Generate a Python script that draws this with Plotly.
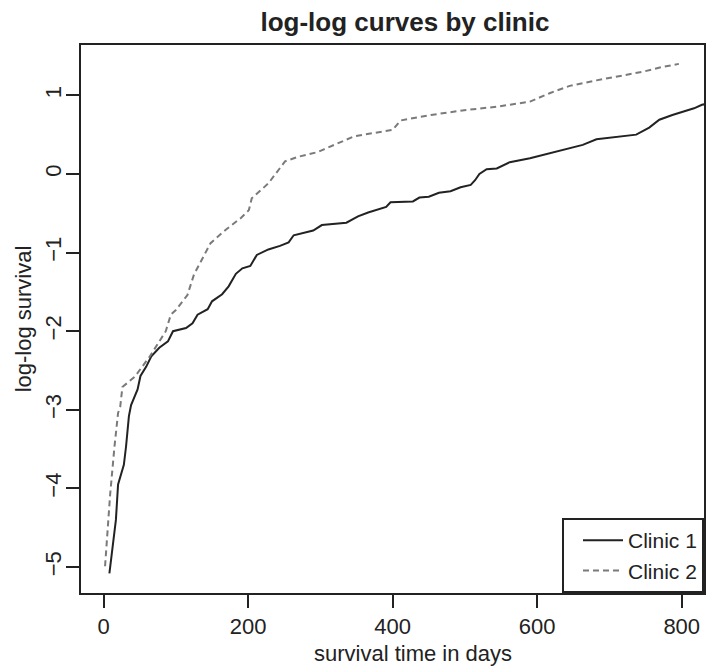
import plotly.graph_objects as go

# Clinic 1 (solid) log-log survival curve
clinic1_t = [8, 17, 20, 28, 31, 35, 38, 43, 47, 51, 59, 66, 77, 89, 96, 114, 123, 130, 144, 150,
             164, 173, 183, 192, 203, 212, 228, 244, 256, 263, 279, 290, 302, 336, 352, 366, 391,
             397, 428, 437, 450, 464, 480, 494, 508, 514, 520, 530, 544, 562, 590, 617, 645, 663,
             682, 709, 737, 755, 769, 787, 817, 828, 840]
clinic1_y = [-5.08, -4.40, -3.95, -3.70, -3.47, -3.08, -2.94, -2.82, -2.74, -2.57, -2.45, -2.32,
             -2.21, -2.13, -2.00, -1.96, -1.90, -1.79, -1.72, -1.62, -1.53, -1.43, -1.27, -1.20,
             -1.17, -1.03, -0.96, -0.915, -0.87, -0.78, -0.74, -0.72, -0.65, -0.62, -0.54, -0.49,
             -0.42, -0.36, -0.35, -0.30, -0.29, -0.24, -0.22, -0.17, -0.14, -0.08, 0.00, 0.06,
             0.07, 0.15, 0.20, 0.26, 0.33, 0.37, 0.44, 0.47, 0.50, 0.59, 0.69, 0.75, 0.835, 0.88,
             0.90]

# Clinic 2 (dashed) log-log survival curve
clinic2_t = [2, 9, 15, 20, 23, 26, 43, 64, 86, 93, 100, 116, 125, 137, 148, 169, 190, 201, 205,
             228, 251, 270, 297, 304, 329, 347, 400, 411, 453, 499, 544, 590, 618, 645, 682, 718,
             746, 773, 796]
clinic2_y = [-4.99, -4.08, -3.47, -3.04, -2.96, -2.71, -2.58, -2.32, -2.00, -1.79, -1.73, -1.54,
             -1.28, -1.07, -0.88, -0.71, -0.56, -0.46, -0.31, -0.12, 0.16, 0.22, 0.28, 0.31, 0.41,
             0.48, 0.56, 0.68, 0.75, 0.81, 0.855, 0.92, 1.03, 1.12, 1.19, 1.25, 1.30, 1.36, 1.40]

x_ticks = [0, 200, 400, 600, 800]
y_ticks = [-5, -4, -3, -2, -1, 0, 1]

FONT = "Liberation Sans, Arial, sans-serif"
INK = "#222222"

fig = go.Figure()
fig.add_trace(go.Scatter(x=clinic1_t, y=clinic1_y, mode="lines", name="Clinic 1",
                         line=dict(color=INK, width=2)))
fig.add_trace(go.Scatter(x=clinic2_t, y=clinic2_y, mode="lines", name="Clinic 2",
                         line=dict(color="#7a7a7a", width=2, dash="6px,4px")))

fig.update_layout(
    width=707, height=668,
    margin=dict(l=81, r=1, t=45, b=75),
    paper_bgcolor="white", plot_bgcolor="white",
    font=dict(family=FONT, size=22, color=INK),
    title=dict(text="log-log curves by clinic", x=(406 - 81) / 625, xref="paper",
               xanchor="center", y=1 - 22 / 668, yanchor="middle",
               font=dict(family=FONT, size=26, weight="bold", color=INK)),
    showlegend=True,
    legend=dict(x=1, y=0, xanchor="right", yanchor="bottom", bgcolor="white",
                bordercolor=INK, borderwidth=2, font=dict(size=21, color=INK),
                indentation=14, itemwidth=40, tracegroupgap=0),
    annotations=[dict(text="survival time in days", xref="paper", yref="paper",
                      x=(414 - 81) / 625, y=-(653 - 593) / 548, xanchor="center",
                      yanchor="middle", showarrow=False, font=dict(size=22, color=INK))],
)
fig.update_xaxes(range=[-31.3, 830.8], tickvals=x_ticks, ticks="outside", ticklen=13,
                 tickwidth=2, tickcolor=INK, showline=True, linewidth=2, linecolor=INK,
                 mirror=True, showgrid=False, zeroline=False,
                 tickfont=dict(size=22))
fig.update_yaxes(range=[-5.33, 1.64], tickvals=y_ticks, ticks="outside", ticklen=13,
                 tickwidth=2, tickcolor=INK, showline=True, linewidth=2, linecolor=INK,
                 mirror=True, showgrid=False, zeroline=False, tickangle=-90,
                 ticklabelstandoff=-4,
                 title=dict(text="log-log survival", standoff=4, font=dict(size=22)),
                 tickfont=dict(size=22))

fig.write_html("out.html")
